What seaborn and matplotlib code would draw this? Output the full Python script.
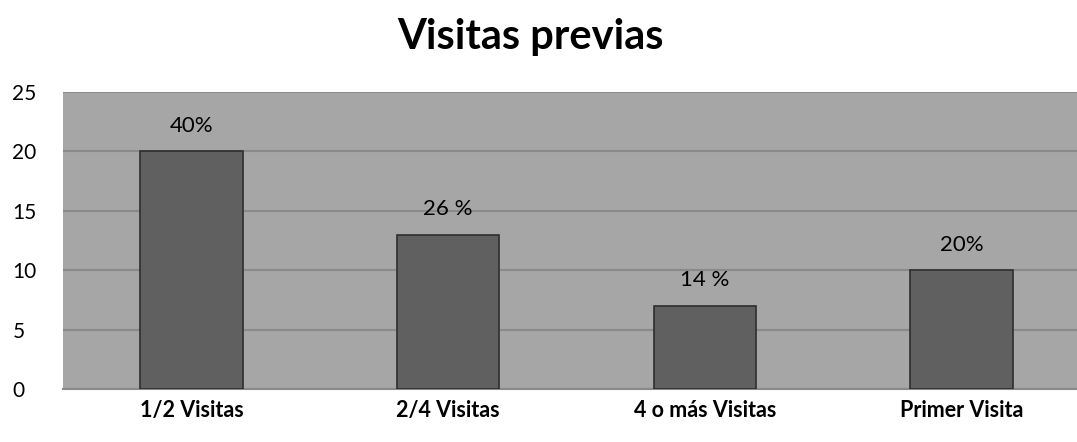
import matplotlib
matplotlib.use("Agg")
import matplotlib.pyplot as plt
import seaborn as sns
import pandas as pd

categorias = ["1/2 Visitas", "2/4 Visitas", "4 o más Visitas", "Primer Visita"]
valores = [20, 13, 7, 10]
etiquetas = ["40%", "26 %", "14 %", "20%"]

df = pd.DataFrame({"cat": categorias, "val": valores})

sns.set_style("white")
plt.rcParams["font.family"] = ["Lato", "DejaVu Sans"]
plt.rcParams["text.color"] = "black"
plt.rcParams["xtick.color"] = "black"
plt.rcParams["ytick.color"] = "black"

fig = plt.figure(figsize=(10.77, 4.42), dpi=100)
# plot area runs past the right edge, as in the original export
ax = fig.add_axes([0.0585, 0.12, 0.9536, 0.672])
ax.set_facecolor("#a6a6a6")

sns.barplot(data=df, x="cat", y="val", color="#606060", width=0.40,
            edgecolor="#2e2e2e", linewidth=1.2, saturation=1, ax=ax, zorder=3)

ax.set_ylim(0, 25)
ax.set_yticks([0, 5, 10, 15, 20, 25])
ax.yaxis.grid(True, color="#8a8a8a", linewidth=1.5, zorder=0)
ax.set_axisbelow(True)
for s in ["left", "right", "top"]:
    ax.spines[s].set_visible(False)
ax.spines["bottom"].set_color("#8a8a8a")
ax.spines["bottom"].set_linewidth(1.5)

for i, (v, t) in enumerate(zip(valores, etiquetas)):
    ax.text(i, v + 1.3, t, ha="center", va="bottom", fontsize=16, color="black")

ax.set_xlabel("")
ax.set_ylabel("")
ax.tick_params(axis="y", labelsize=15, length=0, pad=36.5, labelcolor="black")
ax.tick_params(axis="x", labelsize=15.5, length=0, pad=8, labelcolor="black")
for lab in ax.get_xticklabels():
    lab.set_fontweight("bold")
for lab in ax.get_yticklabels():
    lab.set_horizontalalignment("left")

fig.suptitle("Visitas previas", fontsize=30, fontweight="bold", x=0.493, y=0.96,
             color="black")
fig.savefig("out.png", dpi=100)
